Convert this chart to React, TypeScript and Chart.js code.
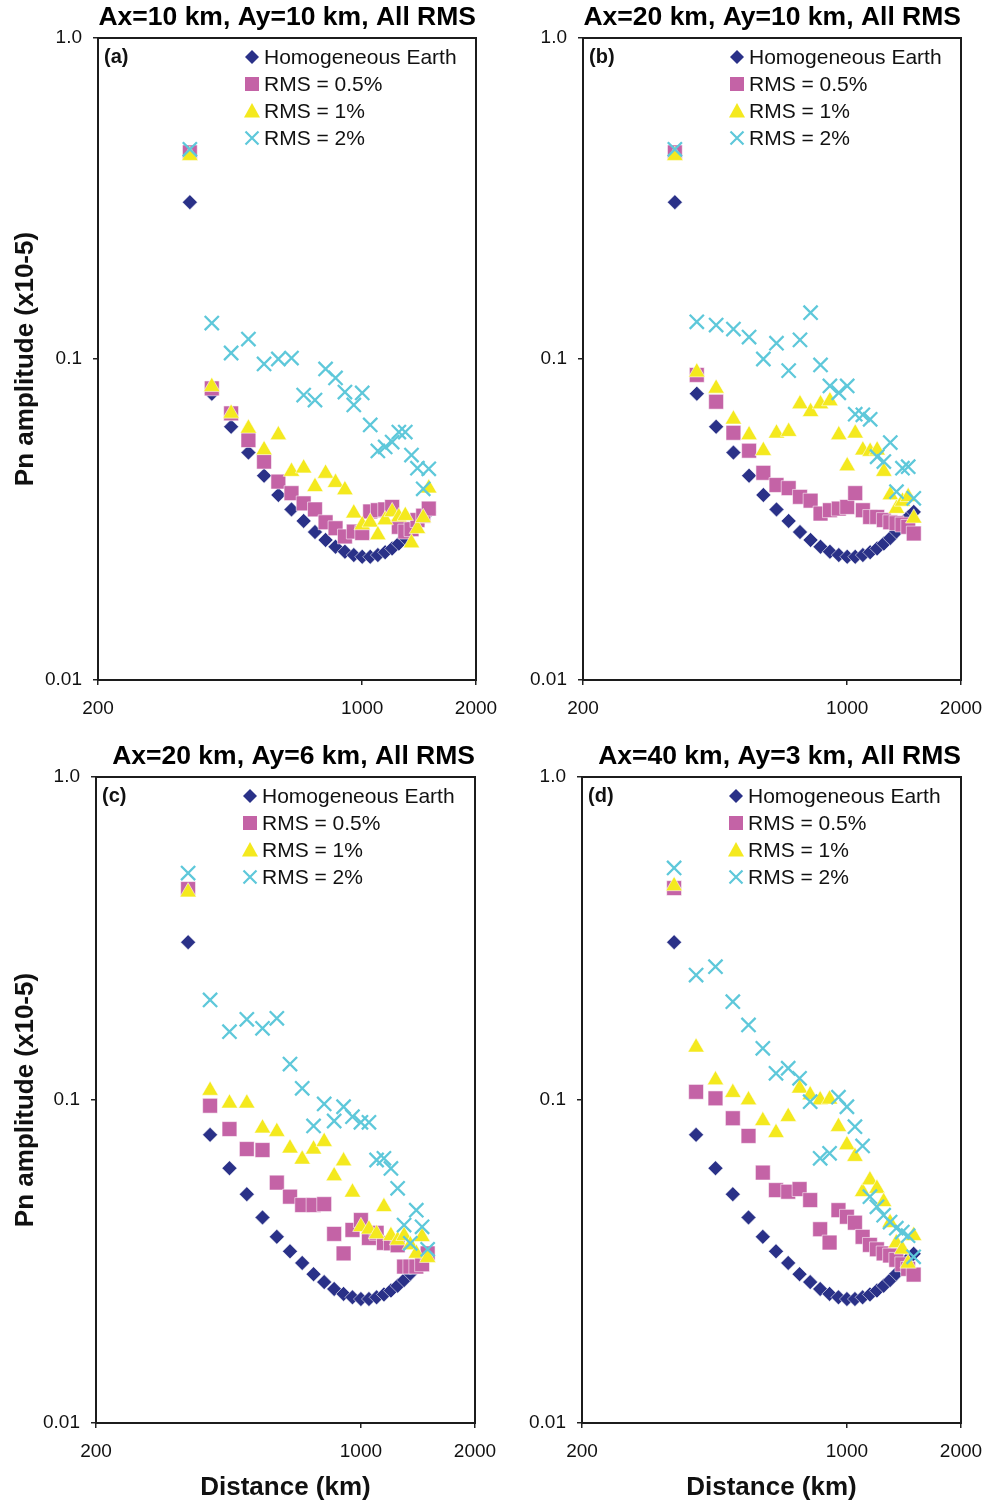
import React, { useEffect, useRef } from "react";
import { Chart, registerables } from "chart.js";

Chart.register(...registerables);

// ---------------- DATA ----------------
const distances = [350, 400, 450, 500, 550, 600, 650, 700, 750, 800, 850, 900, 950, 1000, 1050, 1100, 1150, 1200, 1250, 1300, 1350, 1400, 1450, 1500];

const homogeneous = [0.308, 0.078, 0.0615, 0.0511, 0.0433, 0.0377, 0.034, 0.0313, 0.0289, 0.0273, 0.026, 0.0251, 0.0245, 0.0242, 0.0242, 0.0245, 0.025, 0.0257, 0.0266, 0.0277, 0.029, 0.0305, 0.0322, 0.0334];

const aRms05 = [0.44, 0.081, 0.0677, 0.0559, 0.0479, 0.0415, 0.0382, 0.0355, 0.034, 0.031, 0.0297, 0.028, 0.029, 0.0287, 0.0335, 0.0338, 0.034, 0.0346, 0.03, 0.029, 0.0295, 0.0315, 0.0325, 0.0342];
const aRms1 = [0.43, 0.082, 0.0677, 0.0608, 0.0521, 0.058, 0.0446, 0.0457, 0.04, 0.044, 0.0412, 0.0391, 0.0331, 0.0304, 0.031, 0.0283, 0.0315, 0.0334, 0.0322, 0.0325, 0.0267, 0.0296, 0.032, 0.0396];
const aRms2 = [0.45, 0.1294, 0.1044, 0.1154, 0.0965, 0.1, 0.1007, 0.0772, 0.0745, 0.0931, 0.0873, 0.0789, 0.0719, 0.0784, 0.0623, 0.0517, 0.0532, 0.0551, 0.0592, 0.0592, 0.0502, 0.0457, 0.0394, 0.0455];

const bRms05 = [0.44, 0.0892, 0.0736, 0.0589, 0.0518, 0.0442, 0.0405, 0.0396, 0.0372, 0.0362, 0.033, 0.0338, 0.0342, 0.0346, 0.0382, 0.0338, 0.0322, 0.0322, 0.0315, 0.031, 0.0308, 0.0305, 0.03, 0.0286];
const bRms1 = [0.43, 0.091, 0.081, 0.0649, 0.058, 0.0518, 0.0587, 0.0594, 0.0724, 0.0685, 0.0724, 0.074, 0.058, 0.0464, 0.0587, 0.052, 0.0515, 0.052, 0.0446, 0.0377, 0.0342, 0.036, 0.0372, 0.0319];
const bRms2 = [0.45, 0.1306, 0.1276, 0.124, 0.117, 0.1, 0.112, 0.092, 0.1147, 0.1394, 0.0958, 0.0824, 0.0785, 0.0824, 0.0673, 0.067, 0.0649, 0.0496, 0.0479, 0.0549, 0.0386, 0.0457, 0.0462, 0.0368];

const cRms05 = [0.45, 0.096, 0.0813, 0.0705, 0.07, 0.0555, 0.0502, 0.0473, 0.0473, 0.0476, 0.0385, 0.0335, 0.0396, 0.0425, 0.0374, 0.0388, 0.0361, 0.036, 0.0355, 0.0305, 0.0305, 0.0305, 0.031, 0.0335];
const cRms1 = [0.44, 0.107, 0.0977, 0.0977, 0.0818, 0.0798, 0.0709, 0.0655, 0.0704, 0.0743, 0.0582, 0.0647, 0.0518, 0.0405, 0.0398, 0.0385, 0.0467, 0.038, 0.0368, 0.038, 0.0356, 0.0335, 0.0377, 0.0325];
const cRms2 = [0.504, 0.204, 0.1627, 0.1778, 0.1667, 0.179, 0.1292, 0.1087, 0.0831, 0.0972, 0.0861, 0.0953, 0.0888, 0.0853, 0.0853, 0.0652, 0.066, 0.0614, 0.0533, 0.041, 0.036, 0.0456, 0.0405, 0.0345];

const dRms05 = [0.453, 0.106, 0.1012, 0.0878, 0.0774, 0.0596, 0.0526, 0.052, 0.053, 0.049, 0.0398, 0.0362, 0.0456, 0.0435, 0.0417, 0.0377, 0.0356, 0.0345, 0.0335, 0.033, 0.032, 0.031, 0.03, 0.0288];
const dRms1 = [0.46, 0.1456, 0.1153, 0.1054, 0.1, 0.0862, 0.0792, 0.0888, 0.1087, 0.1036, 0.1, 0.1005, 0.0827, 0.0726, 0.0668, 0.052, 0.0565, 0.0532, 0.0484, 0.0417, 0.0361, 0.0345, 0.0312, 0.038];
const dRms2 = [0.523, 0.2437, 0.2587, 0.2015, 0.1707, 0.1445, 0.121, 0.1254, 0.1167, 0.0988, 0.066, 0.0684, 0.102, 0.0953, 0.0827, 0.0721, 0.0502, 0.0467, 0.044, 0.0419, 0.0401, 0.039, 0.038, 0.0327];

const xTickValues = [200, 1000, 2000];
const xTickLabels = ["200", "1000", "2000"];
const yTickValues = [0.01, 0.1, 1];
const yTickLabels = ["0.01", "0.1", "1.0"];

const seriesNames = ["Homogeneous Earth", "RMS = 0.5%", "RMS = 1%", "RMS = 2%"];
const panelTitles = [
  "Ax=10 km, Ay=10 km, All RMS",
  "Ax=20 km, Ay=10 km, All RMS",
  "Ax=20 km, Ay=6 km, All RMS",
  "Ax=40 km, Ay=3 km, All RMS",
];
const panelLabels = ["(a)", "(b)", "(c)", "(d)"];
const yAxisTitle = "Pn amplitude (x10-5)";
const xAxisTitle = "Distance (km)";

// ---------------- STYLE ----------------
const FONT = '"Liberation Sans", Arial, Helvetica, sans-serif';
const COLORS = ["#2a3188", "#c463a6", "#f4e91e", "#5ec8da"];
const STYLES = ["rectRot", "rect", "triangle", "crossRot"];
const RADII = [7.5, 10.5, 9.5, 10];

function drawMarker(ctx: CanvasRenderingContext2D, idx: number, x: number, y: number) {
  ctx.save();
  ctx.fillStyle = COLORS[idx];
  ctx.strokeStyle = COLORS[idx];
  if (idx === 0) {
    const r = 7;
    ctx.beginPath();
    ctx.moveTo(x, y - r);
    ctx.lineTo(x + r, y);
    ctx.lineTo(x, y + r);
    ctx.lineTo(x - r, y);
    ctx.closePath();
    ctx.fill();
  } else if (idx === 1) {
    ctx.fillRect(x - 7, y - 7, 14, 14);
  } else if (idx === 2) {
    ctx.beginPath();
    ctx.moveTo(x, y - 8);
    ctx.lineTo(x + 8, y + 6.5);
    ctx.lineTo(x - 8, y + 6.5);
    ctx.closePath();
    ctx.fill();
  } else {
    const r = 6.5;
    ctx.lineWidth = 2.2;
    ctx.beginPath();
    ctx.moveTo(x - r, y - r);
    ctx.lineTo(x + r, y + r);
    ctx.moveTo(x + r, y - r);
    ctx.lineTo(x - r, y + r);
    ctx.stroke();
  }
  ctx.restore();
}

const panelDecor = {
  id: "panelDecor",
  afterDatasetsDraw(chart: any, _args: any, opts: any) {
    const ctx: CanvasRenderingContext2D = chart.ctx;
    const { left, top, right, bottom } = chart.chartArea;
    ctx.save();
    ctx.strokeStyle = "#1c1c1c";
    ctx.lineWidth = 2;
    ctx.strokeRect(left, top, right - left, bottom - top);
    ctx.fillStyle = "#111";
    ctx.textBaseline = "middle";
    ctx.textAlign = "left";
    ctx.font = `bold 20px ${FONT}`;
    ctx.fillText(opts.label, left + 6, top + 19);
    ctx.font = `21px ${FONT}`;
    for (let i = 0; i < seriesNames.length; i++) {
      const y = top + 19 + 27 * i;
      drawMarker(ctx, i, left + 154, y);
      ctx.fillStyle = "#111";
      ctx.fillText(seriesNames[i], left + 166, y + 1);
    }
    ctx.restore();
  },
};

type PanelProps = {
  idx: number;
  series: number[][];
  left: number;
  top: number;
  W: number;
  H: number;
  L: number;
  R: number;
  T: number;
  B: number;
  showY: boolean;
  showX: boolean;
};

function Panel(p: PanelProps) {
  const ref = useRef<HTMLCanvasElement | null>(null);
  useEffect(() => {
    if (!ref.current) return;
    const datasets = p.series.map((vals, i) => ({
      label: seriesNames[i],
      data: distances.map((d, j) => ({ x: d, y: vals[j] })),
      pointStyle: STYLES[i],
      pointRadius: RADII[i],
      backgroundColor: COLORS[i],
      borderColor: i === 3 ? COLORS[i] : "rgba(255,255,255,0.7)",
      borderWidth: i === 3 ? 2.3 : 0.8,
      order: 4 - i,
      showLine: false,
    }));
    const titleFont = { family: FONT, size: 26.5, weight: "bold" as const };
    const axisTitleFont = { family: FONT, size: 26, weight: "bold" as const };
    const chart = new Chart(ref.current, {
      type: "scatter",
      data: { datasets: datasets as any },
      plugins: [panelDecor as any],
      options: {
        responsive: false,
        animation: false,
        events: [],
        layout: { padding: { left: 0, right: p.W - p.R, top: 0, bottom: 0 } },
        plugins: {
          legend: { display: false },
          tooltip: { enabled: false },
          title: {
            display: true,
            text: panelTitles[p.idx],
            align: "end",
            fullSize: false,
            color: "#000",
            font: titleFont,
            padding: { top: p.T - 36.2, bottom: 4.4 },
          },
          panelDecor: { label: panelLabels[p.idx] },
        } as any,
        scales: {
          x: {
            type: "logarithmic",
            position: "bottom",
            min: 200,
            max: 2000,
            afterBuildTicks: (s: any) => {
              s.ticks = xTickValues.map((v) => ({ value: v }));
            },
            afterFit: (s: any) => {
              s.height = p.H - p.B;
              s.paddingLeft = 0;
              s.paddingRight = 0;
            },
            ticks: {
              autoSkip: false,
              maxRotation: 0,
              padding: 12,
              color: "#111",
              font: { family: FONT, size: 19 },
              callback: (v: any) => {
                const i = xTickValues.indexOf(Number(v));
                return i >= 0 ? xTickLabels[i] : "";
              },
            },
            grid: { display: true, drawOnChartArea: false, drawTicks: true, tickLength: 5, color: "#222", lineWidth: 1.5 },
            border: { display: false },
            title: {
              display: p.showX,
              text: xAxisTitle,
              color: "#111",
              font: axisTitleFont,
              padding: { top: 0, bottom: 2 },
            },
          },
          y: {
            type: "logarithmic",
            position: "left",
            min: 0.01,
            max: 1,
            afterBuildTicks: (s: any) => {
              s.ticks = yTickValues.map((v) => ({ value: v }));
            },
            afterFit: (s: any) => {
              s.width = p.L;
              s.paddingTop = 0;
              s.paddingBottom = 0;
            },
            ticks: {
              autoSkip: false,
              padding: 11,
              color: "#111",
              font: { family: FONT, size: 19 },
              callback: (v: any) => {
                const i = yTickValues.indexOf(Number(v));
                return i >= 0 ? yTickLabels[i] : "";
              },
            },
            grid: { display: true, drawOnChartArea: false, drawTicks: true, tickLength: 5, color: "#222", lineWidth: 1.5 },
            border: { display: false },
            title: {
              display: p.showY,
              text: yAxisTitle,
              color: "#111",
              font: axisTitleFont,
              padding: { top: 10, bottom: 0 },
            },
          },
        } as any,
      },
    });
    return () => chart.destroy();
  }, []);
  return (
    <canvas
      ref={ref}
      width={p.W}
      height={p.H}
      style={{ position: "absolute", left: p.left, top: p.top, width: p.W, height: p.H }}
    />
  );
}

export default function App() {
  return (
    <div style={{ position: "absolute", left: 0, top: 0, width: 990, height: 1505, background: "#fff", overflow: "hidden" }}>
      <Panel idx={0} series={[homogeneous, aRms05, aRms1, aRms2]} left={0} top={0} W={505} H={740} L={98} R={476} T={38} B={680} showY={true} showX={false} />
      <Panel idx={1} series={[homogeneous, bRms05, bRms1, bRms2]} left={495} top={0} W={495} H={740} L={88} R={466} T={38} B={680} showY={false} showX={false} />
      <Panel idx={2} series={[homogeneous, cRms05, cRms1, cRms2]} left={0} top={740} W={505} H={765} L={96} R={475} T={37} B={683} showY={true} showX={true} />
      <Panel idx={3} series={[homogeneous, dRms05, dRms1, dRms2]} left={495} top={740} W={495} H={765} L={87} R={466} T={37} B={683} showY={false} showX={true} />
    </div>
  );
}
